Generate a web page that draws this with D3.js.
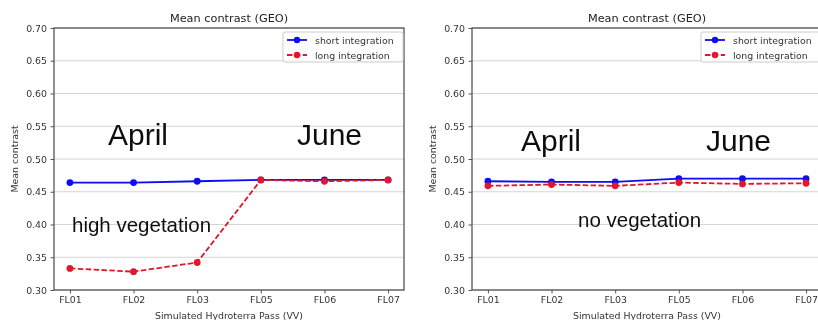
<!DOCTYPE html>
<html>
<head>
<meta charset="utf-8">
<script src="https://cdn.jsdelivr.net/npm/d3@7"></script>
<style>
  html, body { margin: 0; padding: 0; background: #fff; }
  svg { display: block; }
</style>
</head>
<body>
<svg id="chart" width="818" height="320"></svg>
<script>
// Simulated Hydroterra passes and mean contrast values (GEO)
const passes = ["FL01", "FL02", "FL03", "FL05", "FL06", "FL07"];
const yTicks = [0.30, 0.35, 0.40, 0.45, 0.50, 0.55, 0.60, 0.65, 0.70];

// High-vegetation scene
const shortHighVeg = [0.464, 0.464, 0.466, 0.468, 0.468, 0.468];
const longHighVeg  = [0.333, 0.328, 0.342, 0.468, 0.466, 0.468];

// No-vegetation scene
const shortNoVeg = [0.466, 0.465, 0.465, 0.470, 0.470, 0.470];
const longNoVeg  = [0.459, 0.461, 0.459, 0.464, 0.462, 0.463];

const seriesNames = ["short integration", "long integration"];
const titleText = "Mean contrast (GEO)";
const xLabel = "Simulated Hydroterra Pass (VV)";
const yLabel = "Mean contrast";

const BLUE = "#0a0ff0";
const RED = "#e3152a";
const TICK_FONT = "DejaVu Sans, sans-serif";
const NOTE_FONT = "Liberation Sans, Arial, sans-serif";

const svg = d3.select("#chart");

// soft rendering of the whole figure (low-resolution export)
svg.append("defs").append("filter")
  .attr("id", "soft")
  .attr("x", 0).attr("y", 0).attr("width", 1).attr("height", 1)
  .append("feGaussianBlur").attr("stdDeviation", 0.35);

svg.append("rect").attr("width", 818).attr("height", 320).attr("fill", "#fff");
const root = svg.append("g").attr("filter", "url(#soft)");
root.append("rect").attr("width", 818).attr("height", 320).attr("fill", "#fff");

const panels = [
  {
    x0: 54, x1: 404,
    short: shortHighVeg, long: longHighVeg,
    notes: [
      { text: "April", x: 108, y: 145, size: 30 },
      { text: "June", x: 297, y: 145, size: 30 },
      { text: "high vegetation", x: 72, y: 232, size: 20.5 }
    ]
  },
  {
    x0: 472, x1: 822,
    short: shortNoVeg, long: longNoVeg,
    notes: [
      { text: "April", x: 521, y: 151, size: 30 },
      { text: "June", x: 706, y: 151, size: 30 },
      { text: "no vegetation", x: 578, y: 227, size: 20.5 }
    ]
  }
];

const yTop = 28, yBottom = 290;

panels.forEach(p => {
  const g = root.append("g");

  const x = d3.scalePoint().domain(passes).range([p.x0, p.x1]).padding(0.25);
  const y = d3.scaleLinear().domain([0.30, 0.70]).range([yBottom, yTop]);

  // horizontal grid
  g.append("g")
    .selectAll("line")
    .data(yTicks)
    .join("line")
    .attr("x1", p.x0).attr("x2", p.x1)
    .attr("y1", d => y(d)).attr("y2", d => y(d))
    .attr("stroke", "#d4d4d4")
    .attr("stroke-width", 1);

  // axes
  const yAxis = g.append("g")
    .attr("transform", `translate(${p.x0},0)`)
    .call(d3.axisLeft(y).tickValues(yTicks).tickFormat(d3.format(".2f"))
      .tickSize(3.5).tickPadding(3.5));
  const xAxis = g.append("g")
    .attr("transform", `translate(0,${yBottom})`)
    .call(d3.axisBottom(x).tickSize(3.5).tickPadding(3));
  [yAxis, xAxis].forEach(a => {
    a.select(".domain").remove();
    a.selectAll(".tick line").attr("stroke", "#555").attr("stroke-width", 1);
    a.selectAll(".tick text")
      .attr("fill", "#333")
      .style("font-family", TICK_FONT)
      .style("font-size", "9.4px");
  });

  // frame
  g.append("rect")
    .attr("x", p.x0).attr("y", yTop)
    .attr("width", p.x1 - p.x0).attr("height", yBottom - yTop)
    .attr("fill", "none")
    .attr("stroke", "#555")
    .attr("stroke-width", 1.3);

  // title and axis labels
  const cx = (p.x0 + p.x1) / 2;
  g.append("text")
    .attr("x", cx).attr("y", 22)
    .attr("text-anchor", "middle")
    .attr("fill", "#222")
    .style("font-family", TICK_FONT)
    .style("font-size", "11.3px")
    .text(titleText);
  g.append("text")
    .attr("x", cx).attr("y", 318.5)
    .attr("text-anchor", "middle")
    .attr("fill", "#333")
    .style("font-family", TICK_FONT)
    .style("font-size", "9.4px")
    .text(xLabel);
  g.append("text")
    .attr("transform", `translate(${p.x0 - 39},${(yTop + yBottom) / 2}) rotate(-90)`)
    .attr("text-anchor", "middle")
    .attr("dominant-baseline", "middle")
    .attr("fill", "#333")
    .style("font-family", TICK_FONT)
    .style("font-size", "9.4px")
    .text(yLabel);

  // series: short integration first, long integration drawn over it
  const line = d3.line().x((d, i) => x(passes[i])).y(d => y(d));
  const series = [
    { values: p.short, color: BLUE, dash: null },
    { values: p.long, color: RED, dash: "5.5,2.4" }
  ];
  series.forEach(s => {
    g.append("path")
      .datum(s.values)
      .attr("d", line)
      .attr("fill", "none")
      .attr("stroke", s.color)
      .attr("stroke-width", 1.8)
      .attr("stroke-dasharray", s.dash);
    g.append("g")
      .selectAll("circle")
      .data(s.values)
      .join("circle")
      .attr("cx", (d, i) => x(passes[i]))
      .attr("cy", d => y(d))
      .attr("r", 3.4)
      .attr("fill", s.color);
  });

  // legend
  const lx = p.x1 - 121, ly = 32;
  const lg = g.append("g");
  lg.append("rect")
    .attr("x", lx).attr("y", ly).attr("width", 120).attr("height", 30)
    .attr("rx", 2)
    .attr("fill", "#fff").attr("fill-opacity", 0.85)
    .attr("stroke", "#ccc").attr("stroke-width", 1);
  series.forEach((s, i) => {
    const ry = ly + 8 + i * 15;
    lg.append("line")
      .attr("x1", lx + 4).attr("x2", lx + 24)
      .attr("y1", ry).attr("y2", ry)
      .attr("stroke", s.color).attr("stroke-width", 1.8)
      .attr("stroke-dasharray", s.dash);
    lg.append("circle").attr("cx", lx + 14).attr("cy", ry).attr("r", 3.2).attr("fill", s.color);
    lg.append("text")
      .attr("x", lx + 32).attr("y", ry)
      .attr("dominant-baseline", "central")
      .attr("fill", "#333")
      .style("font-family", TICK_FONT)
      .style("font-size", "9.4px")
      .text(seriesNames[i]);
  });

  // annotations
  g.append("g")
    .selectAll("text")
    .data(p.notes)
    .join("text")
    .attr("x", d => d.x).attr("y", d => d.y)
    .attr("fill", "#111")
    .style("font-family", NOTE_FONT)
    .style("font-size", d => d.size + "px")
    .text(d => d.text);
});
</script>
</body>
</html>
